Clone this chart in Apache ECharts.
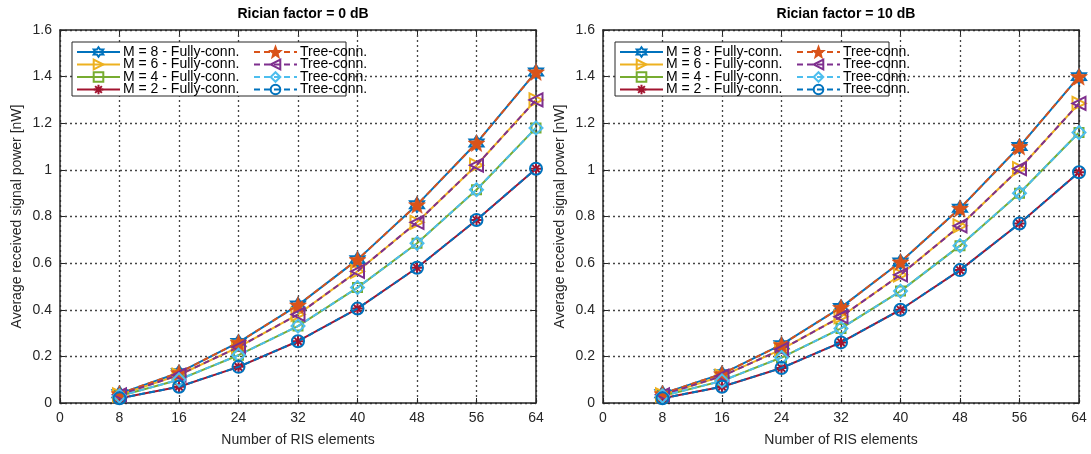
<!DOCTYPE html>
<html>
<head>
<meta charset="utf-8">
<script src="https://cdn.jsdelivr.net/npm/echarts@6/dist/echarts.min.js"></script>
<style>
  html, body { margin: 0; padding: 0; background: #fff; }
  #chart { width: 1091px; height: 454px; }
</style>
</head>
<body>
<div id="chart"></div>
<script>
// data
var panelTitles = ['Rician factor = 0 dB', 'Rician factor = 10 dB'];
var risElements = [8, 16, 24, 32, 40, 48, 56, 64];
var yTicks = [0, 0.2, 0.4, 0.6, 0.8, 1, 1.2, 1.4, 1.6];
var fullNames = ['M = 8 - Fully-conn.', 'M = 6 - Fully-conn.', 'M = 4 - Fully-conn.', 'M = 2 - Fully-conn.'];
var treeNames = ['Tree-conn.', 'Tree-conn.', 'Tree-conn.', 'Tree-conn.'];

// Rician factor = 0 dB
var k0Full8 = [0.04, 0.13, 0.26, 0.42, 0.615, 0.85, 1.115, 1.42];
var k0Full6 = [0.035, 0.12, 0.24, 0.38, 0.565, 0.775, 1.02, 1.30];
var k0Full4 = [0.03, 0.10, 0.205, 0.33, 0.495, 0.685, 0.915, 1.18];
var k0Full2 = [0.02, 0.07, 0.155, 0.265, 0.405, 0.58, 0.785, 1.005];
var k0Tree8 = [0.04, 0.13, 0.26, 0.42, 0.615, 0.85, 1.115, 1.42];
var k0Tree6 = [0.035, 0.12, 0.24, 0.38, 0.565, 0.775, 1.02, 1.30];
var k0Tree4 = [0.03, 0.10, 0.205, 0.33, 0.495, 0.685, 0.915, 1.18];
var k0Tree2 = [0.02, 0.07, 0.155, 0.265, 0.405, 0.58, 0.785, 1.005];

// Rician factor = 10 dB
var k10Full8 = [0.04, 0.125, 0.25, 0.41, 0.605, 0.835, 1.10, 1.40];
var k10Full6 = [0.035, 0.115, 0.23, 0.37, 0.55, 0.76, 1.005, 1.285];
var k10Full4 = [0.03, 0.095, 0.195, 0.32, 0.48, 0.675, 0.90, 1.16];
var k10Full2 = [0.02, 0.07, 0.15, 0.26, 0.40, 0.57, 0.77, 0.99];
var k10Tree8 = [0.04, 0.125, 0.25, 0.41, 0.605, 0.835, 1.10, 1.40];
var k10Tree6 = [0.035, 0.115, 0.23, 0.37, 0.55, 0.76, 1.005, 1.285];
var k10Tree4 = [0.03, 0.095, 0.195, 0.32, 0.48, 0.675, 0.90, 1.16];
var k10Tree2 = [0.02, 0.07, 0.15, 0.26, 0.40, 0.57, 0.77, 0.99];

var panelData = [
    { full: [k0Full8, k0Full6, k0Full4, k0Full2], tree: [k0Tree8, k0Tree6, k0Tree4, k0Tree2] },
    { full: [k10Full8, k10Full6, k10Full4, k10Full2], tree: [k10Tree8, k10Tree6, k10Tree4, k10Tree2] }
];

var FONT = '"Liberation Sans", Arial, sans-serif';
var TXT = '#262626';

//star outline path
function starPath(n, R, r) {
    var pts = [];
    for (var i = 0; i < 2 * n; i++) {
        var a = -Math.PI / 2 + i * Math.PI / n;
        var rad = i % 2 === 0 ? R : r;
        pts.push((rad * Math.cos(a)).toFixed(2) + ',' + (rad * Math.sin(a)).toFixed(2));
    }
    return 'path://M' + pts.join(' L') + ' Z';
}

var fullStyle = [
    { color: '#0072BD', symbol: starPath(6, 10, 5.8), size: 14, fill: false },
    { color: '#EDB120', symbol: 'path://M10,0 L-7,-10 L-7,10 Z', size: 13, fill: false },
    { color: '#77AC30', symbol: 'rect', size: 9, fill: false },
    { color: '#A2142F', symbol: 'path://M0,-10 L0,10 M-10,0 L10,0 M-7,-7 L7,7 M-7,7 L7,-7', size: 11, fill: false }
];
var treeStyle = [
    { color: '#D95319', symbol: starPath(5, 10, 4.2), size: 17, fill: true },
    { color: '#7E2F8E', symbol: 'path://M-10,0 L7,-10 L7,10 Z', size: 13, fill: false },
    { color: '#4DBEEE', symbol: 'diamond', size: 13, fill: false },
    { color: '#0072BD', symbol: 'circle', size: 12, fill: false }
];

var gridLeft = [60, 603];
var gridWidth = 476;

function makeSeries(p, names, values, styles, dashed) {
    var out = [];
    for (var i = 0; i < values.length; i++) {
        var s = styles[i];
        out.push({
            name: names[i] + (dashed ? '\u200b'.repeat(i + 1) : ''),
            type: 'line',
            xAxisIndex: p * 2,
            yAxisIndex: p * 2,
            data: risElements.map(function (x, k) { return [x, values[i][k]]; }),
            symbol: s.symbol,
            symbolSize: s.size,
            showAllSymbol: true,
            z: dashed ? 3 : 2,
            lineStyle: { color: s.color, width: 2, type: dashed ? [6, 4] : 'solid' },
            itemStyle: {
                color: s.fill ? s.color : 'rgba(255,255,255,0)',
                borderColor: s.color,
                borderWidth: s.fill ? 0.5 : 2
            },
            emphasis: { disabled: true },
            animation: false
        });
    }
    return out;
}

var option = {
    animation: false,
    backgroundColor: '#fff',
    title: [],
    grid: [],
    xAxis: [],
    yAxis: [],
    legend: [],
    graphic: [],
    series: []
};

for (var p = 0; p < 2; p++) {
    var cx = gridLeft[p] + gridWidth / 2;
    option.title.push({
        text: panelTitles[p],
        left: cx, top: 2, textAlign: 'center',
        textStyle: { fontFamily: FONT, fontSize: 14, fontWeight: 'bold', color: '#000' }
    });
    option.grid.push({ left: gridLeft[p], width: gridWidth, top: 30, bottom: 51, containLabel: false });

    var axisLine = { show: true, onZero: false, lineStyle: { color: TXT, width: 1.5 } };
    var tick = { show: true, inside: true, length: 5, lineStyle: { color: TXT, width: 1 } };
    option.xAxis.push({
        type: 'value', gridIndex: p, min: 0, max: 64, interval: 8, position: 'bottom',
        name: 'Number of RIS elements', nameLocation: 'middle', nameGap: 30,
        nameTextStyle: { fontFamily: FONT, fontSize: 14, color: TXT },
        axisLine: axisLine, axisTick: tick,
        axisLabel: { fontFamily: FONT, fontSize: 14, color: TXT, margin: 8 },
        splitLine: { show: true, lineStyle: { color: '#444', type: [2, 3], width: 1.3 } }
    });
    option.xAxis.push({
        type: 'value', gridIndex: p, min: 0, max: 64, interval: 8, position: 'top',
        axisLine: axisLine, axisTick: tick, axisLabel: { show: false }, splitLine: { show: false }
    });
    option.yAxis.push({
        type: 'value', gridIndex: p, min: 0, max: 1.6, interval: 0.2, position: 'left',
        name: 'Average received signal power [nW]', nameLocation: 'middle', nameGap: 36,
        nameTextStyle: { fontFamily: FONT, fontSize: 14, color: TXT },
        axisLine: axisLine, axisTick: tick,
        axisLabel: {
            fontFamily: FONT, fontSize: 14, color: TXT, margin: 8,
            formatter: function (v) {
                var t = yTicks.filter(function (y) { return Math.abs(y - v) < 1e-6; });
                return t.length ? String(t[0]) : '';
            }
        },
        splitLine: { show: true, lineStyle: { color: '#444', type: [2, 3], width: 1.3 } }
    });
    option.yAxis.push({
        type: 'value', gridIndex: p, min: 0, max: 1.6, interval: 0.2, position: 'right',
        axisLine: axisLine, axisTick: tick, axisLabel: { show: false }, splitLine: { show: false }
    });

    var fullSeries = makeSeries(p, fullNames, panelData[p].full, fullStyle, false);
    var treeSeries = makeSeries(p, treeNames, panelData[p].tree, treeStyle, true);
    option.series = option.series.concat(fullSeries, treeSeries);

    var legendBase = {
        orient: 'vertical', top: 45, itemWidth: 43, itemHeight: 12, itemGap: -1.5,
        padding: 0, selectedMode: false, z: 6,
        textStyle: { fontFamily: FONT, fontSize: 14, color: '#000', lineHeight: 12, padding: [0, 0, 0, -2] },
        formatter: function (n) { return n.replace(/\u200b/g, ''); }
    };
    option.legend.push(Object.assign({}, legendBase, {
        left: gridLeft[p] + 16,
        data: fullSeries.map(function (s) { return s.name; })
    }));
    option.legend.push(Object.assign({}, legendBase, {
        left: gridLeft[p] + 193,
        data: treeSeries.map(function (s) { return s.name; })
    }));
    option.graphic.push({
        type: 'rect', z: 5,
        shape: { x: gridLeft[p] + 12, y: 42, width: 274, height: 54 },
        style: { fill: '#fff', stroke: TXT, lineWidth: 1 }
    });
}

var myChart = echarts.init(document.getElementById('chart'), null, { renderer: 'canvas' });
myChart.setOption(option);
</script>
</body>
</html>
